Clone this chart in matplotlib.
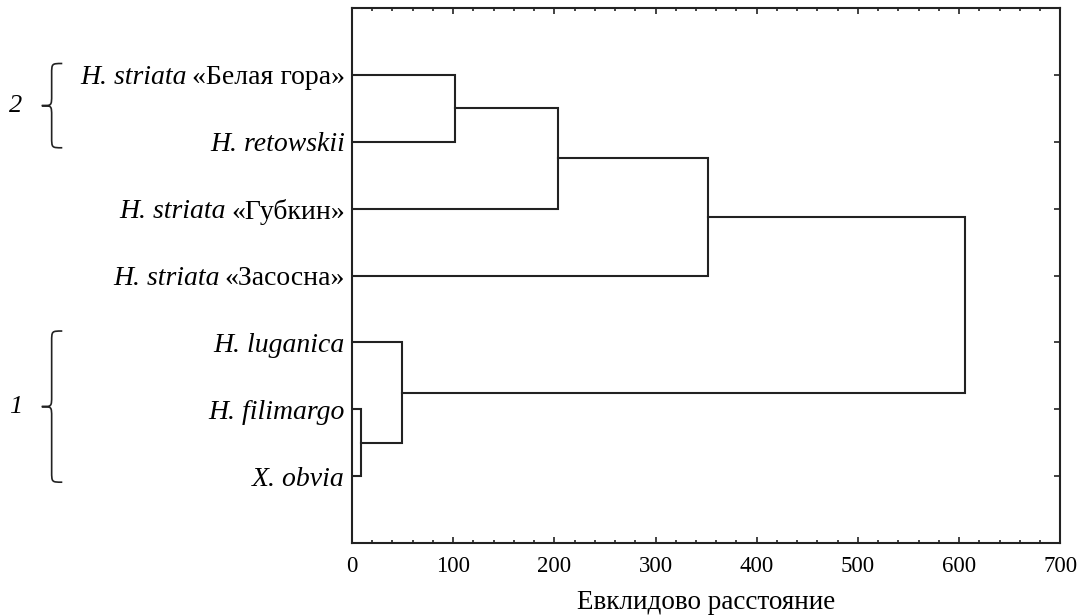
import numpy as np
import matplotlib
matplotlib.use('Agg')
import matplotlib.pyplot as plt
from matplotlib.path import Path
from matplotlib.patches import PathPatch
from matplotlib.ticker import MultipleLocator
import matplotlib.transforms as mtransforms

# ---- шрифты ----
plt.rcParams['font.family'] = ['Liberation Serif', 'DejaVu Serif']

# ---- данные ----
# листья сверху вниз: курсивная часть + прямая часть
leaf_italic = ['H. striata', 'H. retowskii', 'H. striata', 'H. striata',
               'H. luganica', 'H. filimargo', 'X. obvia']
leaf_plain = ['«Белая гора»', '', '«Губкин»', '«Засосна»', '', '', '']
# объединения (как в linkage): id 0..6 - листья, 7.. - новые узлы
merge_a = [5, 4, 0, 9, 10, 11]
merge_b = [6, 7, 1, 2, 3, 8]
merge_height = [8.5, 49, 102, 204, 352, 606]

# группы слева
group_names = ['2', '1']
group_first = [0, 4]
group_last = [1, 6]

# ---- позиции узлов ----
n = len(leaf_italic)
ypos = {i: i + 1 for i in range(n)}
xpos = {i: 0.0 for i in range(n)}

fig, ax = plt.subplots(figsize=(10.83, 6.15), dpi=100)
fig.subplots_adjust(left=0.325, right=0.979, top=0.987, bottom=0.117)

for k, (a, b, h) in enumerate(zip(merge_a, merge_b, merge_height)):
    node = n + k
    ya, yb = ypos[a], ypos[b]
    ax.plot([xpos[a], h, h, xpos[b]], [ya, ya, yb, yb],
            color='#222222', linewidth=1.5, solid_joinstyle='miter')
    ypos[node] = (ya + yb) / 2.0
    xpos[node] = h

ax.set_xlim(0, 700)
ax.set_ylim(8, 0)
ax.xaxis.set_major_locator(MultipleLocator(100))
ax.xaxis.set_minor_locator(MultipleLocator(20))
ax.set_yticks(np.arange(1, n + 1))
ax.set_yticklabels([''] * n)

ax.tick_params(axis='x', which='major', direction='in', top=True, length=4,
               width=1.2, labelsize=16.5, pad=9, color='#222222')
ax.tick_params(axis='x', which='minor', direction='in', top=True, length=2.5,
               width=1.2, color='#222222')
ax.tick_params(axis='y', direction='in', left=False, right=True, length=4,
               width=1.2, color='#222222')
for sp in ax.spines.values():
    sp.set_linewidth(1.5)
    sp.set_color('#222222')

ax.set_xlabel('Евклидово расстояние', fontsize=19.5, labelpad=10)

# ---- подписи листьев (курсив + прямой шрифт) ----
trans = mtransforms.blended_transform_factory(ax.transAxes, ax.transData)
fig.canvas.draw()
renderer = fig.canvas.get_renderer()
label_fs = 20
for i in range(n):
    offset = -7
    if leaf_plain[i]:
        t = ax.annotate(leaf_plain[i], (0, ypos[i]), xycoords=trans,
                        xytext=(offset, 0), textcoords='offset pixels',
                        ha='right', va='center_baseline', fontsize=label_fs)
        offset -= t.get_window_extent(renderer).width + 5
    ax.annotate(leaf_italic[i], (0, ypos[i]), xycoords=trans,
                xytext=(offset, 0), textcoords='offset pixels',
                ha='right', va='center_baseline', fontsize=label_fs,
                style='italic')

# ---- фигурные скобки групп ----
x_tip, x_spine, x_end = -0.438, -0.424, -0.409
for name, i0, i1 in zip(group_names, group_first, group_last):
    top = ypos[i0] - 0.17
    bot = ypos[i1] + 0.09
    mid = (top + bot) / 2.0
    r = 0.16
    verts = [
        (x_end, top),
        (x_spine, top), (x_spine, top), (x_spine, top + r),
        (x_spine, mid - r),
        (x_spine, mid), (x_spine, mid), (x_tip, mid),
        (x_spine, mid), (x_spine, mid), (x_spine, mid + r),
        (x_spine, bot - r),
        (x_spine, bot), (x_spine, bot), (x_end, bot),
    ]
    codes = [Path.MOVETO,
             Path.CURVE4, Path.CURVE4, Path.CURVE4,
             Path.LINETO,
             Path.CURVE4, Path.CURVE4, Path.CURVE4,
             Path.CURVE4, Path.CURVE4, Path.CURVE4,
             Path.LINETO,
             Path.CURVE4, Path.CURVE4, Path.CURVE4]
    patch = PathPatch(Path(verts, codes), transform=trans, fill=False,
                      edgecolor='#222222', linewidth=1.2, clip_on=False)
    ax.add_patch(patch)
    ax.text(x_tip - 0.028, mid, name, transform=trans, fontsize=19,
            style='italic', ha='right', va='center')

fig.savefig('out.png', dpi=100)
